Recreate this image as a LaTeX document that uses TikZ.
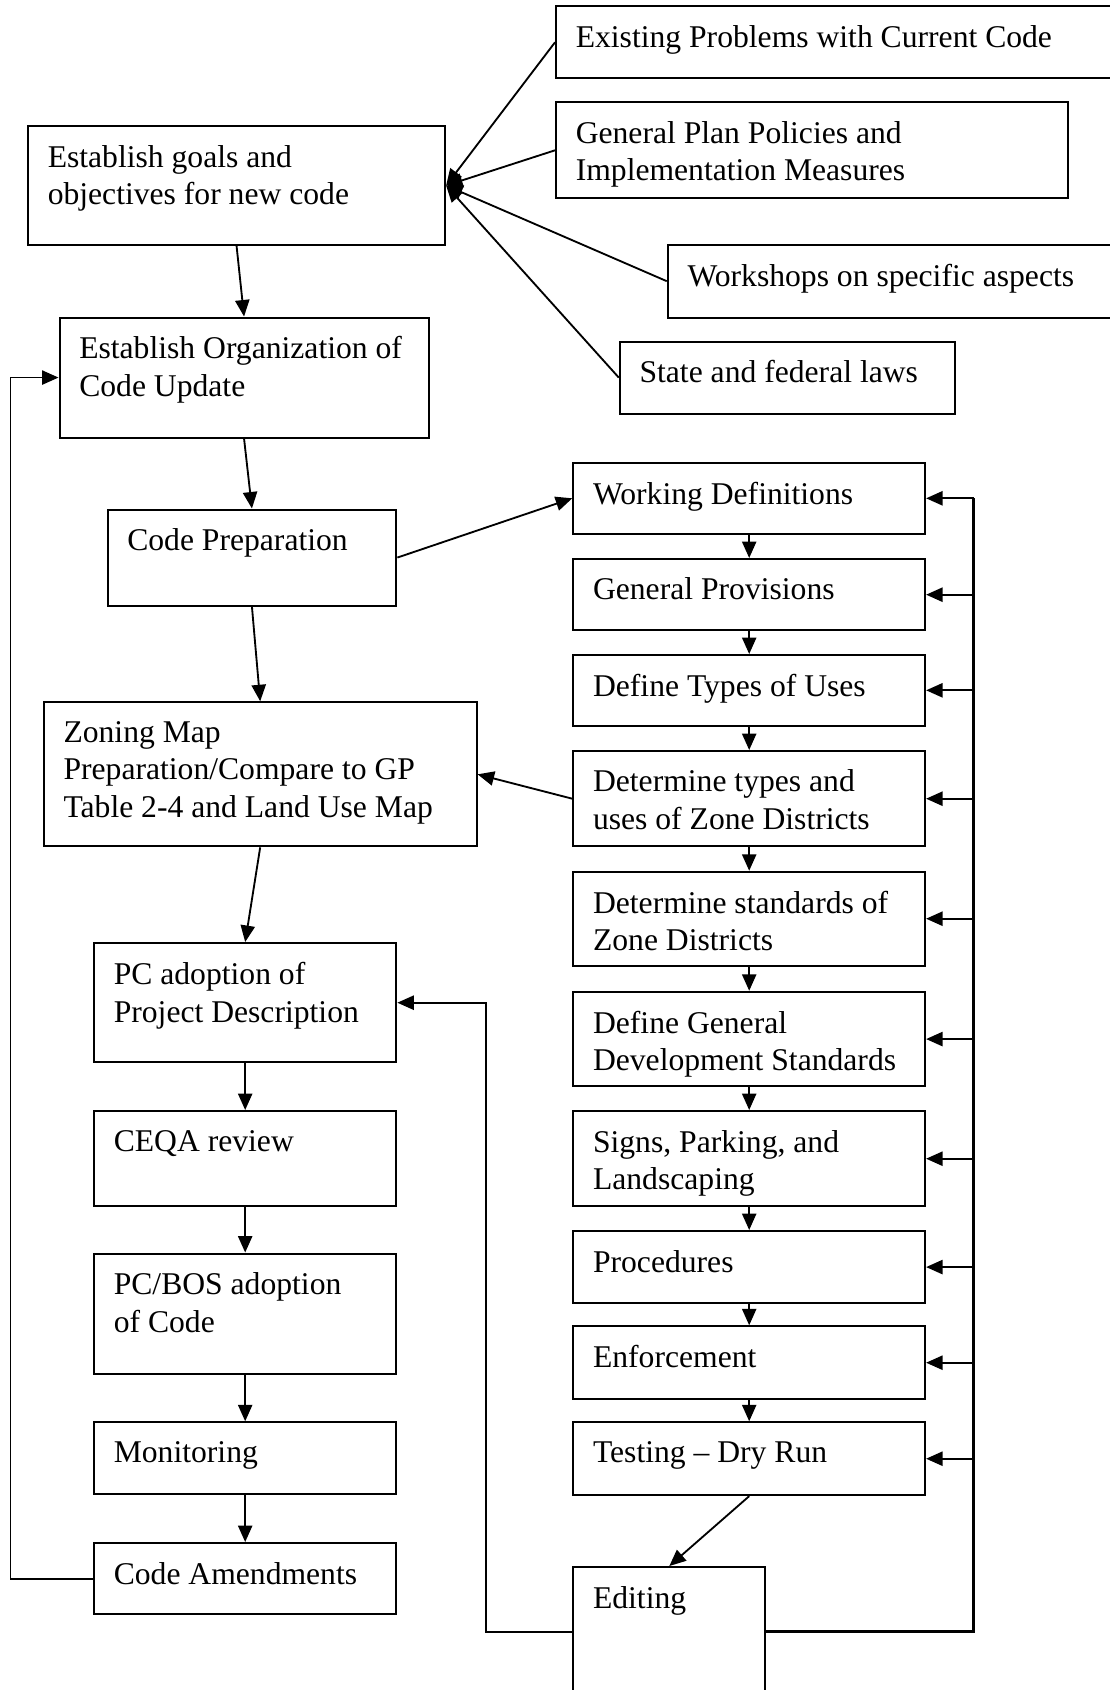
\documentclass[tikz,border=0pt]{standalone}
\usepackage{fontspec}
\setmainfont{Liberation Serif}
\usetikzlibrary{arrows.meta}

\begin{document}
\begin{tikzpicture}[
  font=\fontsize{12}{14.3}\selectfont,
  box/.style 2 args={draw, line width=0.8pt, anchor=north west, inner sep=0pt,
    minimum width=#1cm, minimum height=#2cm},
  lbl/.style={anchor=north west, inner sep=0pt, align=left, xshift=0.27cm, yshift=-0.26cm},
  arr/.style={-{Triangle[length=0.22cm,width=0.19cm]}, line width=0.7pt},
  bus/.style={line width=0.9pt},
]
\useasboundingbox (0,0) rectangle (14.787,-22.533);

% Inputs to the goals
\node[box={7.5}{0.96}, label={[lbl]north west:Existing Problems with Current Code}] (exist) at (7.40,-0.07) {};
\node[box={6.83}{1.28}, label={[lbl]north west:General Plan Policies and\\Implementation Measures}] (gp) at (7.40,-1.35) {};
\node[box={6.0}{0.97}, label={[lbl]north west:Workshops on specific aspects}] (wshop) at (8.89,-3.25) {};
\node[box={4.47}{0.96}, label={[lbl]north west:State and federal laws}] (laws) at (8.25,-4.54) {};

% Main sequence (left)
\node[box={5.56}{1.58}, label={[lbl]north west:Establish goals and\\objectives for new code}] (goals) at (0.36,-1.67) {};
\node[box={4.92}{1.60}, label={[lbl]north west:Establish Organization of\\Code Update}] (org) at (0.78,-4.22) {};
\node[box={3.85}{1.28}, label={[lbl]north west:Code Preparation}] (prep) at (1.42,-6.78) {};
\node[box={5.77}{1.92}, label={[lbl]north west:Zoning Map\\Preparation/Compare to GP\\Table 2-4 and Land Use Map}] (zoning) at (0.57,-9.35) {};
\node[box={4.03}{1.59}, label={[lbl]north west:PC adoption of\\Project Description}] (pcadopt) at (1.24,-12.56) {};
\node[box={4.03}{1.27}, label={[lbl]north west:CEQA review}] (ceqa) at (1.24,-14.80) {};
\node[box={4.03}{1.61}, label={[lbl]north west:PC/BOS adoption\\of Code}] (bos) at (1.24,-16.70) {};
\node[box={4.03}{0.95}, label={[lbl]north west:Monitoring}] (monitor) at (1.24,-18.95) {};
\node[box={4.03}{0.95}, label={[lbl]north west:Code Amendments}] (amend) at (1.24,-20.56) {};

% Code sections (right)
\node[box={4.69}{0.94}, label={[lbl]north west:Working Definitions}] (wdef) at (7.63,-6.16) {};
\node[box={4.69}{0.95}, label={[lbl]north west:General Provisions}] (gprov) at (7.63,-7.44) {};
\node[box={4.69}{0.94}, label={[lbl]north west:Define Types of Uses}] (types) at (7.63,-8.72) {};
\node[box={4.69}{1.27}, label={[lbl]north west:Determine types and\\uses of Zone Districts}] (detuses) at (7.63,-10.00) {};
\node[box={4.69}{1.25}, label={[lbl]north west:Determine standards of\\Zone Districts}] (detstd) at (7.63,-11.61) {};
\node[box={4.69}{1.26}, label={[lbl]north west:Define General\\Development Standards}] (devstd) at (7.63,-13.21) {};
\node[box={4.69}{1.27}, label={[lbl]north west:Signs, Parking, and\\Landscaping}] (signs) at (7.63,-14.80) {};
\node[box={4.69}{0.96}, label={[lbl]north west:Procedures}] (proc) at (7.63,-16.40) {};
\node[box={4.69}{0.97}, label={[lbl]north west:Enforcement}] (enf) at (7.63,-17.67) {};
\node[box={4.69}{0.97}, label={[lbl]north west:Testing -- Dry Run}] (test) at (7.63,-18.95) {};
\node[box={2.56}{1.72}, label={[lbl]north west:Editing}] (edit) at (7.63,-20.88) {};

\coordinate (bus) at (12.98,0);

% Fan into the goals
\foreach \s in {exist,gp,wshop,laws}
  \draw[arr] (\s.west) -- (goals.east);

% Left chain
\draw[arr] (goals.south) -- (org.north);
\draw[arr] (org.south) -- (prep.north);
\draw[arr] (prep.south) -- (zoning.north);
\draw[arr] (zoning.south) -- (pcadopt.north);
\draw[arr] (pcadopt.south) -- (ceqa.north);
\draw[arr] (ceqa.south) -- (bos.north);
\draw[arr] (bos.south) -- (monitor.north);
\draw[arr] (monitor.south) -- (amend.north);
\draw[arr] (amend.west) -- ++(-1.10,0) |- (org.west);

% Right chain
\draw[arr] (prep.east) -- (wdef.west);
\draw[arr] (detuses.west) -- (zoning.east);
\foreach \a/\b in {wdef/gprov,gprov/types,types/detuses,detuses/detstd,detstd/devstd,devstd/signs,signs/proc,proc/enf,enf/test}
  \draw[arr] (\a.south) -- (\b.north);
\draw[arr] (test.south) -- (edit.north);

% Editing feeds back
\draw[bus] (edit.east) -- (bus |- edit.east) -- (bus |- wdef.east);
\foreach \n in {wdef,gprov,types,detuses,detstd,devstd,signs,proc,enf,test}
  \draw[arr] (bus |- \n.east) -- (\n.east);
\draw[arr] (edit.west) -- ++(-1.15,0) |- (pcadopt.east);

\end{tikzpicture}
\end{document}
